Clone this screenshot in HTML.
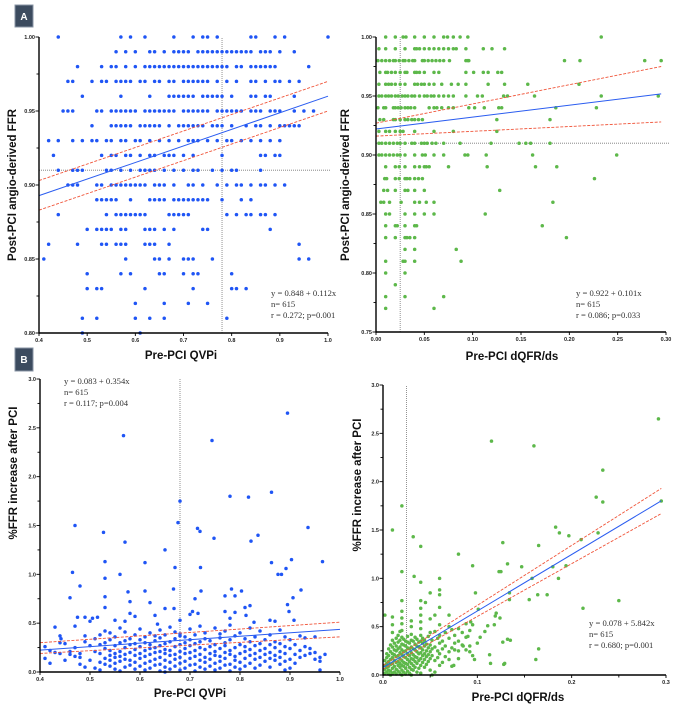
<!DOCTYPE html>
<html><head><meta charset="utf-8">
<style>
html,body{margin:0;padding:0;background:#fff;}
svg{display:block;}
.tk{font-family:"Liberation Sans",sans-serif;font-weight:bold;font-size:5.5px;fill:#222;}
.tt{font-family:"Liberation Sans",sans-serif;font-weight:bold;font-size:11.5px;fill:#111;}
.an{font-family:"Liberation Serif",serif;font-size:8.6px;fill:#333;}
.lb{font-family:"Liberation Sans",sans-serif;font-weight:bold;font-size:10px;fill:#fff;}
</style></head>
<body>
<svg id="fig" width="676" height="707" viewBox="0 0 676 707" xmlns="http://www.w3.org/2000/svg">
  <rect x="15" y="5" width="18" height="22" fill="#3c4b5f" stroke="#8a96a6" stroke-width="1"/>
  <text x="24" y="20" class="lb" text-anchor="middle">A</text>
  <rect x="15" y="348" width="18" height="23" fill="#3c4b5f" stroke="#8a96a6" stroke-width="1"/>
  <text x="24" y="363" class="lb" text-anchor="middle">B</text>
</svg>
<script>
// ---------- DATA ----------
// Panel A-left: post-PCI FFR levels and QVPi values at each level
const aLeftLevels=[1.00,0.99,0.98,0.97,0.96,0.95,0.94,0.93,0.92,0.91,0.90,0.89,0.88,0.87,0.86,0.85,0.84,0.83,0.82,0.81,0.80];
const aLeftX=[
[0.44,0.57,0.59,0.62,0.68,0.72,0.74,0.75,0.77,0.84,0.85,0.89,0.91,1.00],
[0.56,0.58,0.60,0.63,0.64,0.66,0.68,0.69,0.70,0.71,0.73,0.74,0.75,0.76,0.77,0.78,0.79,0.80,0.81,0.82,0.83,0.84,0.86,0.87,0.88,0.90,0.93],
[0.48,0.53,0.55,0.56,0.58,0.60,0.62,0.63,0.64,0.65,0.66,0.67,0.68,0.69,0.70,0.71,0.72,0.73,0.74,0.75,0.76,0.77,0.78,0.79,0.81,0.82,0.84,0.85,0.86,0.87,0.88,0.89,0.96],
[0.46,0.47,0.51,0.53,0.54,0.56,0.57,0.58,0.59,0.61,0.62,0.64,0.65,0.67,0.68,0.70,0.71,0.72,0.73,0.74,0.75,0.77,0.79,0.81,0.84,0.85,0.87,0.89,0.90,0.92,0.94],
[0.49,0.57,0.63,0.67,0.68,0.69,0.70,0.71,0.72,0.74,0.75,0.76,0.77,0.78,0.80,0.84,0.85,0.87,0.88,0.93],
[0.45,0.46,0.47,0.52,0.53,0.55,0.56,0.57,0.58,0.59,0.60,0.62,0.63,0.64,0.65,0.66,0.67,0.68,0.70,0.71,0.72,0.73,0.74,0.75,0.77,0.78,0.79,0.80,0.81,0.82,0.84,0.85,0.86,0.88,0.89,0.90,0.93,0.95,0.97],
[0.51,0.55,0.56,0.57,0.58,0.59,0.61,0.62,0.63,0.64,0.65,0.67,0.69,0.70,0.71,0.72,0.73,0.74,0.76,0.77,0.78,0.80,0.83,0.85,0.86,0.88,0.90,0.91,0.92,0.93,0.94],
[0.42,0.44,0.47,0.49,0.51,0.52,0.54,0.55,0.57,0.58,0.60,0.61,0.63,0.65,0.67,0.69,0.71,0.72,0.73,0.75,0.77,0.79,0.80,0.82,0.84,0.86,0.88,0.90],
[0.43,0.53,0.55,0.56,0.58,0.59,0.61,0.63,0.64,0.66,0.67,0.68,0.70,0.72,0.78,0.86,0.87,0.89,0.90],
[0.44,0.47,0.48,0.49,0.54,0.55,0.57,0.59,0.61,0.62,0.63,0.64,0.66,0.68,0.70,0.72,0.73,0.76,0.78,0.80,0.81,0.86],
[0.46,0.47,0.48,0.52,0.53,0.55,0.56,0.57,0.58,0.59,0.60,0.61,0.62,0.64,0.65,0.66,0.68,0.71,0.72,0.74,0.77,0.79,0.81,0.82,0.84,0.86,0.87,0.89,0.91],
[0.52,0.53,0.54,0.55,0.56,0.59,0.63,0.64,0.65,0.66,0.68,0.69,0.70,0.71,0.72,0.73,0.74,0.75,0.78,0.82,0.84],
[0.44,0.54,0.56,0.57,0.58,0.59,0.60,0.61,0.62,0.67,0.68,0.69,0.70,0.71,0.79,0.81,0.83,0.84,0.86,0.87,0.89],
[0.50,0.52,0.53,0.54,0.55,0.57,0.58,0.62,0.63,0.64,0.66,0.68,0.74,0.75,0.88],
[0.42,0.48,0.53,0.54,0.56,0.57,0.58,0.62,0.63,0.64,0.67,0.94],
[0.41,0.58,0.64,0.65,0.67,0.70,0.71,0.72,0.76,0.94,0.96],
[0.50,0.57,0.59,0.65,0.66,0.70,0.72,0.73,0.80],
[0.50,0.52,0.53,0.62,0.72,0.80,0.81,0.83],
[0.60,0.66,0.71,0.75],
[0.49,0.52,0.60,0.63,0.66,0.79],
[0.49,0.61]];
// Panel A-right: post-PCI FFR levels and dQFR/ds values
const aRightLevels=[1.00,0.99,0.98,0.97,0.96,0.95,0.94,0.93,0.92,0.91,0.90,0.89,0.88,0.87,0.86,0.85,0.84,0.83,0.82,0.81,0.80,0.79,0.78,0.77];
const aRightX=[
[0.01,0.02,0.028,0.031,0.04,0.05,0.06,0.07,0.074,0.08,0.087,0.095,0.233],
[0.003,0.01,0.02,0.03,0.04,0.042,0.045,0.05,0.055,0.06,0.065,0.07,0.075,0.08,0.083,0.093,0.111,0.12,0.133],
[0.002,0.006,0.01,0.014,0.018,0.02,0.024,0.028,0.03,0.034,0.038,0.04,0.048,0.05,0.054,0.058,0.062,0.066,0.07,0.076,0.093,0.095,0.096,0.195,0.211,0.278,0.295],
[0.004,0.01,0.012,0.016,0.02,0.025,0.03,0.032,0.04,0.042,0.045,0.05,0.06,0.065,0.093,0.101,0.111,0.116,0.126,0.13],
[0.003,0.01,0.013,0.016,0.02,0.025,0.03,0.04,0.043,0.047,0.05,0.055,0.06,0.068,0.078,0.085,0.093,0.116,0.133,0.157,0.21],
[0.003,0.006,0.01,0.013,0.016,0.02,0.023,0.027,0.03,0.033,0.037,0.04,0.045,0.05,0.053,0.057,0.06,0.065,0.07,0.075,0.08,0.093,0.105,0.11,0.132,0.136,0.164,0.233,0.292],
[0.002,0.008,0.01,0.018,0.02,0.023,0.026,0.03,0.033,0.036,0.04,0.055,0.06,0.063,0.068,0.075,0.08,0.096,0.102,0.112,0.127,0.13,0.186,0.228],
[0.004,0.008,0.018,0.02,0.025,0.03,0.033,0.037,0.04,0.044,0.048,0.125,0.18],
[0.003,0.01,0.014,0.02,0.025,0.028,0.04,0.06,0.08,0.125],
[0.003,0.006,0.01,0.014,0.018,0.022,0.025,0.03,0.037,0.04,0.047,0.05,0.053,0.058,0.062,0.07,0.087,0.119,0.148,0.155,0.16,0.18],
[0.003,0.006,0.01,0.014,0.018,0.022,0.025,0.03,0.04,0.048,0.051,0.06,0.07,0.092,0.095,0.114,0.162,0.249],
[0.01,0.02,0.024,0.03,0.04,0.045,0.05,0.052,0.055,0.075,0.115,0.165,0.187],
[0.009,0.011,0.02,0.024,0.03,0.032,0.035,0.04,0.044,0.048,0.226],
[0.008,0.012,0.02,0.03,0.033,0.04,0.05,0.128],
[0.005,0.008,0.014,0.026,0.04,0.045,0.052,0.06,0.183],
[0.01,0.014,0.03,0.04,0.05,0.06,0.113],
[0.01,0.02,0.022,0.03,0.04,0.042,0.172],
[0.01,0.02,0.03,0.032,0.035,0.04,0.197],
[0.03,0.04,0.083],
[0.01,0.028,0.03,0.04,0.088],
[0.01,0.03],
[0.02],
[0.01,0.03,0.07],
[0.01,0.06]];
// Panel B-left: QVPi vs %FFR increase
const bLeftOutliers=[[0.567,2.42],[0.744,2.37],[0.895,2.65],[0.68,1.75],[0.78,1.80],[0.817,1.79],[0.863,1.84],[0.47,1.50],[0.527,1.43],[0.57,1.33],[0.676,1.53],[0.715,1.47],[0.72,1.44],[0.748,1.37],[0.822,1.34],[0.836,1.40],[0.936,1.48],[0.65,1.25],[0.53,1.13],[0.61,1.12],[0.67,1.07],[0.721,1.07],[0.863,1.12],[0.903,1.15],[0.965,1.13],[0.465,1.02],[0.56,1.0],[0.876,1.0],[0.883,1.0],[0.892,1.06],[0.53,0.96],[0.48,0.88],[0.576,0.82],[0.61,0.83],[0.667,0.85],[0.722,0.83],[0.783,0.85],[0.803,0.83],[0.922,0.84],[0.46,0.76],[0.53,0.77],[0.58,0.72],[0.62,0.71],[0.71,0.75],[0.77,0.78],[0.79,0.78],[0.906,0.76],[0.53,0.66],[0.65,0.65],[0.668,0.65],[0.81,0.66],[0.82,0.68],[0.895,0.69],[0.47,0.47],[0.475,0.56],[0.49,0.56],[0.505,0.55],[0.515,0.56],[0.55,0.53],[0.57,0.52],[0.58,0.60],[0.59,0.57],[0.63,0.58],[0.635,0.49],[0.68,0.53],[0.70,0.59],[0.705,0.62],[0.716,0.60],[0.77,0.62],[0.78,0.55],[0.79,0.61],[0.812,0.58],[0.828,0.51],[0.86,0.53],[0.87,0.52],[0.898,0.62],[0.908,0.53],[0.43,0.46],[0.44,0.37],[0.442,0.34]];
const bLeftCols=[0.41,0.42,0.43,0.44,0.45,0.46,0.47,0.48,0.49,0.50,0.51,0.52,0.53,0.54,0.55,0.56,0.57,0.58,0.59,0.60,0.61,0.62,0.63,0.64,0.65,0.66,0.67,0.68,0.69,0.70,0.71,0.72,0.73,0.74,0.75,0.76,0.77,0.78,0.79,0.80,0.81,0.82,0.83,0.84,0.85,0.86,0.87,0.88,0.89,0.90,0.91,0.92,0.93,0.94,0.95,0.96,0.97];
const bLeftVals=[[0.14,0.26],[0.09,0.22],[0.20],[0.19,0.30],[0.29,0.12],[0.21,0.18],[0.16,0.25],[0.15,0.19,0.08],[0.05,0.31,0.37],[0.27,0.12,0.52],[0.21,0.04,0.34],[0.02,0.10,0.19,0.28,0.38],[0.08,0.14,0.24,0.30,0.42],[0.06,0.12,0.17,0.22,0.33,0.40],[0.03,0.09,0.15,0.19,0.27,0.36],[0.01,0.11,0.16,0.21,0.30,0.45],[0.05,0.13,0.18,0.25,0.32,0.41],[0.07,0.12,0.20,0.28,0.34],[0.03,0.10,0.17,0.23,0.29,0.38],[0.06,0.14,0.19,0.26,0.33,0.44],[0.02,0.09,0.16,0.22,0.30,0.36],[0.04,0.11,0.18,0.24,0.28,0.40],[0.07,0.13,0.20,0.25,0.32,0.37],[0.01,0.08,0.15,0.21,0.27,0.35,0.43],[0.00,0.05,0.12,0.19,0.23,0.29,0.38],[0.03,0.10,0.17,0.22,0.31,0.46],[0.06,0.13,0.18,0.26,0.34,0.41],[0.02,0.09,0.15,0.21,0.28,0.37,0.39],[0.04,0.11,0.19,0.24,0.30,0.36],[0.07,0.14,0.20,0.27,0.33,0.44],[0.01,0.08,0.16,0.22,0.29,0.38],[0.05,0.12,0.18,0.25,0.31,0.47],[0.03,0.10,0.15,0.23,0.34,0.40],[0.06,0.13,0.19,0.26,0.32],[0.02,0.09,0.17,0.21,0.28,0.45],[0.04,0.11,0.16,0.24,0.35,0.39],[0.07,0.14,0.20,0.27,0.30,0.42],[0.01,0.08,0.18,0.22,0.33,0.48],[0.05,0.12,0.16,0.25,0.37],[0.03,0.10,0.19,0.28,0.40],[0.06,0.14,0.21,0.26,0.34],[0.09,0.17,0.23,0.31,0.45],[0.04,0.13,0.19,0.27,0.36],[0.07,0.15,0.22,0.29,0.42],[0.11,0.18,0.24,0.33],[0.05,0.14,0.20,0.28,0.38],[0.12,0.17,0.25,0.31],[0.08,0.15,0.21,0.29,0.43],[0.02,0.11,0.19,0.26,0.36],[0.04,0.13,0.24,0.33],[0.09,0.18,0.28],[0.15,0.22,0.37],[0.17,0.26,0.35],[0.19,0.24],[0.13,0.20,0.36],[0.02,0.11,0.15],[0.18]];
// Panel B-right: dQFR/ds vs %FFR increase
const bRightOutliers=[[0.115,2.42],[0.16,2.37],[0.292,2.65],[0.233,2.12],[0.226,1.84],[0.233,1.79],[0.295,1.80],[0.02,1.75],[0.01,1.50],[0.032,1.43],[0.04,1.33],[0.127,1.37],[0.165,1.34],[0.183,1.53],[0.187,1.47],[0.197,1.44],[0.21,1.40],[0.228,1.47],[0.08,1.25],[0.095,1.13],[0.132,1.15],[0.147,1.12],[0.18,1.12],[0.194,1.13],[0.02,1.07],[0.123,1.07],[0.125,1.07],[0.158,1.00],[0.186,1.00],[0.033,1.02],[0.04,0.96],[0.06,1.00],[0.06,0.88],[0.06,0.83],[0.098,0.85],[0.134,0.85],[0.134,0.78],[0.155,0.78],[0.164,0.83],[0.174,0.83],[0.212,0.69],[0.25,0.77],[0.101,0.68],[0.05,0.85],[0.04,0.77],[0.045,0.75],[0.02,0.77],[0.124,0.59],[0.119,0.61],[0.12,0.64],[0.118,0.52],[0.127,0.34],[0.129,0.12],[0.128,0.11],[0.113,0.21],[0.114,0.12],[0.165,0.27],[0.162,0.16],[0.132,0.37],[0.135,0.36],[0.103,0.39],[0.111,0.51],[0.093,0.55],[0.095,0.52],[0.09,0.40],[0.085,0.30],[0.092,0.24],[0.095,0.20],[0.097,0.16],[0.08,0.25],[0.075,0.10],[0.108,0.45],[0.1,0.33]];
const bRightCols=[0.002,0.004,0.006,0.008,0.010,0.012,0.014,0.016,0.018,0.020,0.022,0.024,0.026,0.028,0.030,0.032,0.034,0.036,0.038,0.040,0.042,0.044,0.046,0.048,0.050,0.052,0.055,0.058,0.060,0.063,0.066,0.070,0.073,0.076,0.080,0.084,0.088,0.092];
const bRightVals=[[0.02,0.06,0.10,0.15,0.62],[0.03,0.08,0.12,0.18,0.22],[0.01,0.05,0.09,0.14,0.20,0.27],[0.00,0.04,0.11,0.16,0.24,0.31],[0.02,0.07,0.12,0.18,0.22,0.29,0.36,0.44,0.52,0.60],[0.03,0.09,0.15,0.21,0.26,0.33],[0.01,0.06,0.13,0.19,0.25,0.30,0.38],[0.04,0.10,0.14,0.20,0.27,0.34,0.41],[0.02,0.08,0.12,0.17,0.23,0.29,0.36,0.45],[0.00,0.05,0.10,0.15,0.21,0.26,0.32,0.39,0.46,0.53,0.59,0.66],[0.03,0.09,0.13,0.19,0.24,0.31,0.37],[0.01,0.07,0.12,0.18,0.25,0.30,0.35],[0.04,0.11,0.16,0.22,0.28,0.34,0.40],[0.02,0.08,0.14,0.20,0.27,0.33],[0.00,0.06,0.12,0.17,0.23,0.29,0.36,0.42,0.50,0.56],[0.05,0.10,0.16,0.21,0.27,0.35],[0.08,0.14,0.19,0.26,0.32,0.39],[0.03,0.12,0.18,0.24,0.30,0.37],[0.07,0.15,0.22,0.29,0.34],[0.02,0.10,0.17,0.23,0.28,0.35,0.41,0.48,0.55,0.62,0.69],[0.13,0.20,0.26,0.33,0.38],[0.08,0.16,0.22,0.30,0.36],[0.11,0.19,0.25,0.32],[0.14,0.21,0.28,0.40],[0.05,0.17,0.24,0.31,0.44,0.58],[0.00,0.20,0.27,0.36],[0.03,0.15,0.29,0.45,0.62],[0.18,0.25,0.38],[0.10,0.22,0.33,0.41,0.52,0.70],[0.13,0.27,0.35],[0.19,0.30,0.44],[0.16,0.24,0.38,0.50,0.62],[0.09,0.28,0.47],[0.26,0.33,0.41],[0.17,0.35,0.48],[0.31,0.44],[0.26,0.39,0.53],[0.30,0.46]];
// Regression fits: [intercept, slope]; CI bands as [y at xStart, y at xEnd]
const fitIntercepts=[0.848,0.922,0.083,0.078];
const fitSlopes=[0.112,0.101,0.354,5.842];
const fitRanges=[[0.4,1.0],[0,0.295],[0.4,1.0],[0,0.295]];
const ciUpper=[[0.903,0.970],[0.927,0.975],[0.30,0.51],[0.10,1.93]];
const ciLower=[[0.883,0.950],[0.916,0.928],[0.19,0.36],[0.06,1.67]];
const refX=[0.78,0.025,0.68,0.025];
const refY=[0.91,0.91,null,null];
const annot=[["y = 0.848 + 0.112x","n= 615","r = 0.272; p=0.001"],["y = 0.922 + 0.101x","n= 615","r = 0.086; p=0.033"],["y = 0.083 + 0.354x","n= 615","r = 0.117; p=0.004"],["y = 0.078 + 5.842x","n= 615","r = 0.680; p=0.001"]];
const xTickLabels=[["0.4","0.5","0.6","0.7","0.8","0.9","1.0"],["0.00","0.05","0.10","0.15","0.20","0.25","0.30"],["0.4","0.5","0.6","0.7","0.8","0.9","1.0"],["0.0","0.1","0.2","0.3"]];
const yTickLabels=[["0.80","0.85","0.90","0.95","1.00"],["0.75","0.80","0.85","0.90","0.95","1.00"],["0.0","0.5","1.0","1.5","2.0","2.5","3.0"],["0.0","0.5","1.0","1.5","2.0","2.5","3.0"]];

// ---------- LAYOUT ----------
const NS="http://www.w3.org/2000/svg";
const svg=document.getElementById('fig');
const panels=[
 {id:'a-left',x0:39,x1:328,xmin:0.4,xmax:1.0,y0:333,y1:37,ymin:0.80,ymax:1.00,color:'#1f55f5',xTitle:'Pre-PCI QVPi',yTitle:'Post-PCI angio-derived FFR',xtx:181,xty:359,ytx:16,yty:185,ax:271,ay:296,ymin2:0.025},
 {id:'a-right',x0:376,x1:666,xmin:0,xmax:0.30,y0:332,y1:37,ymin:0.75,ymax:1.00,color:'#5db84a',xTitle:'Pre-PCI dQFR/ds',yTitle:'Post-PCI angio-derived FFR',xtx:512,xty:360,ytx:349,yty:185,ax:576,ay:296,ymin2:0.025},
 {id:'b-left',x0:40,x1:340,xmin:0.4,xmax:1.0,y0:672,y1:379,ymin:0,ymax:3,color:'#1f55f5',xTitle:'Pre-PCI QVPi',yTitle:'%FFR increase after PCI',xtx:190,xty:697,ytx:17,yty:473,ax:64,ay:384,ymin2:0.25},
 {id:'b-right',x0:383,x1:666,xmin:0,xmax:0.3,y0:675,y1:385,ymin:0,ymax:3,color:'#5db84a',xTitle:'Pre-PCI dQFR/ds',yTitle:'%FFR increase after PCI',xtx:518,xty:701,ytx:361,yty:485,ax:589,ay:626,ymin2:0.25}
];
function mk(tag,attrs,parent){const e=document.createElementNS(NS,tag);for(const k in attrs)e.setAttribute(k,attrs[k]);(parent||svg).appendChild(e);return e;}
function sx(p,v){return p.x0+(v-p.xmin)/(p.xmax-p.xmin)*(p.x1-p.x0);}
function sy(p,v){return p.y0+(v-p.ymin)/(p.ymax-p.ymin)*(p.y1-p.y0);}

function pointsFor(i){
  const pts=[];
  if(i===0){aLeftLevels.forEach((lv,k)=>aLeftX[k].forEach(x=>pts.push([x,lv])));}
  if(i===1){aRightLevels.forEach((lv,k)=>aRightX[k].forEach(x=>pts.push([x,lv])));}
  if(i===2){bLeftCols.forEach((c,k)=>bLeftVals[k].forEach(y=>pts.push([c,y])));bLeftOutliers.forEach(p=>pts.push(p));}
  if(i===3){bRightCols.forEach((c,k)=>bRightVals[k].forEach(y=>pts.push([c,y])));bRightOutliers.forEach(p=>pts.push(p));}
  return pts;
}

panels.forEach((p,i)=>{
  const g=mk('g',{});
  
  
  // reference lines
  const rx=mk('line',{x1:sx(p,refX[i]),x2:sx(p,refX[i]),y1:p.y0,y2:p.y1,stroke:'#777','stroke-width':0.8,'stroke-dasharray':'1,1'},g);
  
  
  if(refY[i]!==null){
    const ry=mk('line',{x1:p.x0,x2:p.x1+3,y1:sy(p,refY[i]),y2:sy(p,refY[i]),stroke:'#777','stroke-width':0.8,'stroke-dasharray':'1,1'},g);
    
    
  }
  // points
  const pg=mk('g',{fill:p.color},g);
  
  
  pointsFor(i).forEach(pt=>{
    if(pt[0]<p.xmin||pt[0]>p.xmax)return;
    const c=mk('circle',{cx:sx(p,pt[0]).toFixed(2),cy:sy(p,pt[1]).toFixed(2),r:1.75},pg);
    
    
  });
  // fits
  const xa=fitRanges[i][0],xb=fitRanges[i][1];
  const fl=mk('line',{x1:sx(p,xa),y1:sy(p,fitIntercepts[i]+fitSlopes[i]*xa),x2:sx(p,xb),y2:sy(p,fitIntercepts[i]+fitSlopes[i]*xb),stroke:'#2a5cf0','stroke-width':1},g);
  
  
  const cu=mk('line',{x1:sx(p,xa),y1:sy(p,ciUpper[i][0]),x2:sx(p,xb),y2:sy(p,ciUpper[i][1]),stroke:'#f0553a','stroke-width':0.9,'stroke-dasharray':'3,1.5'},g);
  
  
  const cl=mk('line',{x1:sx(p,xa),y1:sy(p,ciLower[i][0]),x2:sx(p,xb),y2:sy(p,ciLower[i][1]),stroke:'#f0553a','stroke-width':0.9,'stroke-dasharray':'3,1.5'},g);
  
  
  // axes
  const axg=mk('g',{},g);
  
  
  mk('line',{x1:p.x0,x2:p.x1,y1:p.y0,y2:p.y0,stroke:'#000','stroke-width':1.4},axg);
  mk('line',{x1:p.x0,x2:p.x0,y1:p.y0+0.7,y2:p.y1,stroke:'#000','stroke-width':1.4},axg);
  // x ticks
  const xl=xTickLabels[i];
  xl.forEach((lab,k)=>{
    const v=parseFloat(lab);
    const X=sx(p,v);
    mk('line',{x1:X,x2:X,y1:p.y0,y2:p.y0+3,stroke:'#000','stroke-width':0.9},axg);
    const t=mk('text',{x:X,y:p.y0+9,'text-anchor':'middle',class:'tk'},axg);
    t.textContent=lab;
    
    
  });
  if(i===3){for(let v=0.05;v<0.3;v+=0.1){const X=sx(p,v);mk('line',{x1:X,x2:X,y1:p.y0,y2:p.y0+2.5,stroke:'#000','stroke-width':0.9},axg);}}
  // y ticks
  const yl=yTickLabels[i];
  yl.forEach(lab=>{
    const v=parseFloat(lab),Y=sy(p,v);
    mk('line',{x1:p.x0-3.5,x2:p.x0,y1:Y,y2:Y,stroke:'#000','stroke-width':0.9},axg);
    const t=mk('text',{x:p.x0-4,y:Y+2,'text-anchor':'end',class:'tk'},axg);
    t.textContent=lab;
    
    
  });
  for(let v=p.ymin+p.ymin2;v<p.ymax;v+=2*p.ymin2){const Y=sy(p,v);mk('line',{x1:p.x0-2.5,x2:p.x0,y1:Y,y2:Y,stroke:'#000','stroke-width':0.9},axg);}
  // titles
  const xt=mk('text',{x:p.xtx,y:p.xty,'text-anchor':'middle',class:'tt'},g);
  xt.textContent=p.xTitle;
  
  
  const yt=mk('text',{x:0,y:0,'text-anchor':'middle',class:'tt',transform:'translate('+p.ytx+','+p.yty+') rotate(-90)'},g);
  yt.textContent=p.yTitle;
  
  
  // annotations
  annot[i].forEach((s,k)=>{
    const t=mk('text',{x:p.ax,y:p.ay+k*11,class:'an'},g);
    t.textContent=s;
    
    
  });
});
</script>
</body></html>
